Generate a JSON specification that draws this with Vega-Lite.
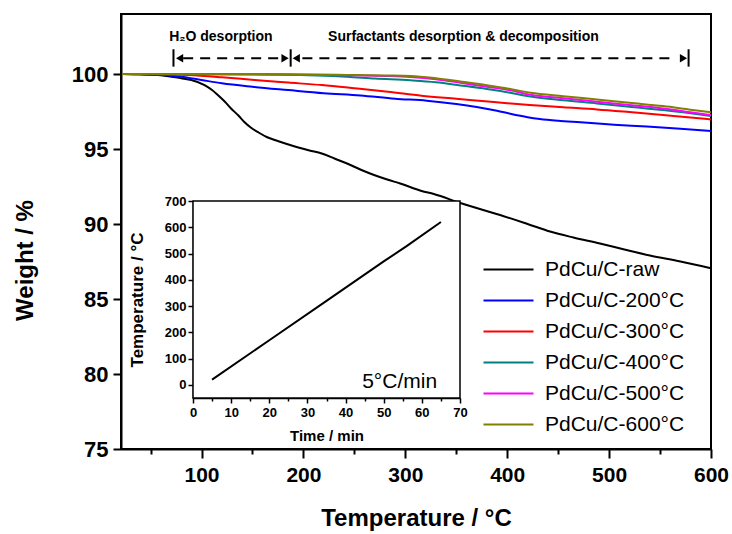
{
  "$schema": "https://vega.github.io/schema/vega-lite/v6.json",
  "width": 590,
  "height": 435,
  "autosize": {"type": "none"},
  "padding": {"left": 121, "top": 14, "right": 21, "bottom": 85},
  "background": "white",
  "config": {
    "view": {"stroke": "black", "strokeWidth": 2},
    "font": "Liberation Sans",
    "axis": {"grid": false, "domainColor": "black", "tickColor": "black", "labelColor": "black", "titleColor": "black"}
  },
  "datasets": {
    "tga": [
      {"sample": "PdCu/C-raw", "T": 22, "W": 100.0},
      {"sample": "PdCu/C-raw", "T": 40, "W": 99.98},
      {"sample": "PdCu/C-raw", "T": 60, "W": 99.92},
      {"sample": "PdCu/C-raw", "T": 71, "W": 99.82},
      {"sample": "PdCu/C-raw", "T": 80, "W": 99.72},
      {"sample": "PdCu/C-raw", "T": 90, "W": 99.6},
      {"sample": "PdCu/C-raw", "T": 103, "W": 99.26},
      {"sample": "PdCu/C-raw", "T": 110, "W": 98.95},
      {"sample": "PdCu/C-raw", "T": 116, "W": 98.6},
      {"sample": "PdCu/C-raw", "T": 123, "W": 98.15},
      {"sample": "PdCu/C-raw", "T": 129, "W": 97.7},
      {"sample": "PdCu/C-raw", "T": 136, "W": 97.25},
      {"sample": "PdCu/C-raw", "T": 142, "W": 96.8},
      {"sample": "PdCu/C-raw", "T": 149, "W": 96.4},
      {"sample": "PdCu/C-raw", "T": 156, "W": 96.1},
      {"sample": "PdCu/C-raw", "T": 164, "W": 95.8},
      {"sample": "PdCu/C-raw", "T": 172, "W": 95.6},
      {"sample": "PdCu/C-raw", "T": 183, "W": 95.35},
      {"sample": "PdCu/C-raw", "T": 195, "W": 95.1},
      {"sample": "PdCu/C-raw", "T": 206, "W": 94.9},
      {"sample": "PdCu/C-raw", "T": 218, "W": 94.7},
      {"sample": "PdCu/C-raw", "T": 231, "W": 94.35},
      {"sample": "PdCu/C-raw", "T": 244, "W": 94.0},
      {"sample": "PdCu/C-raw", "T": 257, "W": 93.6},
      {"sample": "PdCu/C-raw", "T": 270, "W": 93.25},
      {"sample": "PdCu/C-raw", "T": 283, "W": 92.95},
      {"sample": "PdCu/C-raw", "T": 295, "W": 92.7},
      {"sample": "PdCu/C-raw", "T": 316, "W": 92.2},
      {"sample": "PdCu/C-raw", "T": 328, "W": 92.0},
      {"sample": "PdCu/C-raw", "T": 354, "W": 91.4},
      {"sample": "PdCu/C-raw", "T": 393, "W": 90.6},
      {"sample": "PdCu/C-raw", "T": 420, "W": 90.0},
      {"sample": "PdCu/C-raw", "T": 442, "W": 89.5},
      {"sample": "PdCu/C-raw", "T": 465, "W": 89.1},
      {"sample": "PdCu/C-raw", "T": 491, "W": 88.7},
      {"sample": "PdCu/C-raw", "T": 515, "W": 88.3},
      {"sample": "PdCu/C-raw", "T": 540, "W": 87.9},
      {"sample": "PdCu/C-raw", "T": 570, "W": 87.5},
      {"sample": "PdCu/C-raw", "T": 600, "W": 87.05},
      {"sample": "PdCu/C-200°C", "T": 22, "W": 100.0},
      {"sample": "PdCu/C-200°C", "T": 50, "W": 99.97},
      {"sample": "PdCu/C-200°C", "T": 80, "W": 99.82},
      {"sample": "PdCu/C-200°C", "T": 100, "W": 99.6},
      {"sample": "PdCu/C-200°C", "T": 120, "W": 99.38},
      {"sample": "PdCu/C-200°C", "T": 150, "W": 99.15},
      {"sample": "PdCu/C-200°C", "T": 185, "W": 98.93},
      {"sample": "PdCu/C-200°C", "T": 220, "W": 98.72},
      {"sample": "PdCu/C-200°C", "T": 256, "W": 98.57},
      {"sample": "PdCu/C-200°C", "T": 290, "W": 98.35},
      {"sample": "PdCu/C-200°C", "T": 321, "W": 98.22},
      {"sample": "PdCu/C-200°C", "T": 350, "W": 98.0},
      {"sample": "PdCu/C-200°C", "T": 370, "W": 97.8},
      {"sample": "PdCu/C-200°C", "T": 390, "W": 97.55},
      {"sample": "PdCu/C-200°C", "T": 403, "W": 97.35},
      {"sample": "PdCu/C-200°C", "T": 420, "W": 97.12},
      {"sample": "PdCu/C-200°C", "T": 432, "W": 97.0},
      {"sample": "PdCu/C-200°C", "T": 450, "W": 96.88},
      {"sample": "PdCu/C-200°C", "T": 472, "W": 96.78},
      {"sample": "PdCu/C-200°C", "T": 505, "W": 96.62},
      {"sample": "PdCu/C-200°C", "T": 537, "W": 96.5},
      {"sample": "PdCu/C-200°C", "T": 570, "W": 96.35},
      {"sample": "PdCu/C-200°C", "T": 600, "W": 96.2},
      {"sample": "PdCu/C-300°C", "T": 22, "W": 100.0},
      {"sample": "PdCu/C-300°C", "T": 60, "W": 99.98},
      {"sample": "PdCu/C-300°C", "T": 87, "W": 99.93},
      {"sample": "PdCu/C-300°C", "T": 120, "W": 99.78},
      {"sample": "PdCu/C-300°C", "T": 152, "W": 99.6},
      {"sample": "PdCu/C-300°C", "T": 185, "W": 99.43},
      {"sample": "PdCu/C-300°C", "T": 218, "W": 99.26},
      {"sample": "PdCu/C-300°C", "T": 250, "W": 99.05},
      {"sample": "PdCu/C-300°C", "T": 283, "W": 98.82},
      {"sample": "PdCu/C-300°C", "T": 316, "W": 98.55},
      {"sample": "PdCu/C-300°C", "T": 350, "W": 98.35},
      {"sample": "PdCu/C-300°C", "T": 387, "W": 98.13},
      {"sample": "PdCu/C-300°C", "T": 422, "W": 97.93},
      {"sample": "PdCu/C-300°C", "T": 455, "W": 97.78},
      {"sample": "PdCu/C-300°C", "T": 488, "W": 97.64},
      {"sample": "PdCu/C-300°C", "T": 520, "W": 97.46},
      {"sample": "PdCu/C-300°C", "T": 553, "W": 97.26},
      {"sample": "PdCu/C-300°C", "T": 580, "W": 97.1},
      {"sample": "PdCu/C-300°C", "T": 600, "W": 96.97},
      {"sample": "PdCu/C-400°C", "T": 22, "W": 100.0},
      {"sample": "PdCu/C-400°C", "T": 100, "W": 99.98},
      {"sample": "PdCu/C-400°C", "T": 180, "W": 99.95},
      {"sample": "PdCu/C-400°C", "T": 243, "W": 99.82},
      {"sample": "PdCu/C-400°C", "T": 270, "W": 99.7},
      {"sample": "PdCu/C-400°C", "T": 305, "W": 99.58},
      {"sample": "PdCu/C-400°C", "T": 330, "W": 99.45},
      {"sample": "PdCu/C-400°C", "T": 354, "W": 99.24},
      {"sample": "PdCu/C-400°C", "T": 380, "W": 99.0},
      {"sample": "PdCu/C-400°C", "T": 403, "W": 98.75},
      {"sample": "PdCu/C-400°C", "T": 423, "W": 98.5},
      {"sample": "PdCu/C-400°C", "T": 455, "W": 98.25},
      {"sample": "PdCu/C-400°C", "T": 488, "W": 98.04},
      {"sample": "PdCu/C-400°C", "T": 520, "W": 97.82},
      {"sample": "PdCu/C-400°C", "T": 553, "W": 97.6},
      {"sample": "PdCu/C-400°C", "T": 580, "W": 97.38},
      {"sample": "PdCu/C-400°C", "T": 600, "W": 97.2},
      {"sample": "PdCu/C-500°C", "T": 22, "W": 100.0},
      {"sample": "PdCu/C-500°C", "T": 150, "W": 99.98},
      {"sample": "PdCu/C-500°C", "T": 250, "W": 99.92},
      {"sample": "PdCu/C-500°C", "T": 280, "W": 99.87},
      {"sample": "PdCu/C-500°C", "T": 305, "W": 99.8},
      {"sample": "PdCu/C-500°C", "T": 330, "W": 99.65},
      {"sample": "PdCu/C-500°C", "T": 354, "W": 99.42},
      {"sample": "PdCu/C-500°C", "T": 380, "W": 99.15},
      {"sample": "PdCu/C-500°C", "T": 403, "W": 98.91},
      {"sample": "PdCu/C-500°C", "T": 423, "W": 98.62},
      {"sample": "PdCu/C-500°C", "T": 455, "W": 98.38},
      {"sample": "PdCu/C-500°C", "T": 488, "W": 98.15},
      {"sample": "PdCu/C-500°C", "T": 520, "W": 97.93},
      {"sample": "PdCu/C-500°C", "T": 553, "W": 97.7},
      {"sample": "PdCu/C-500°C", "T": 580, "W": 97.45},
      {"sample": "PdCu/C-500°C", "T": 600, "W": 97.26},
      {"sample": "PdCu/C-600°C", "T": 22, "W": 100.0},
      {"sample": "PdCu/C-600°C", "T": 150, "W": 100.0},
      {"sample": "PdCu/C-600°C", "T": 250, "W": 99.93},
      {"sample": "PdCu/C-600°C", "T": 280, "W": 99.9},
      {"sample": "PdCu/C-600°C", "T": 305, "W": 99.87},
      {"sample": "PdCu/C-600°C", "T": 330, "W": 99.72},
      {"sample": "PdCu/C-600°C", "T": 354, "W": 99.5},
      {"sample": "PdCu/C-600°C", "T": 380, "W": 99.25},
      {"sample": "PdCu/C-600°C", "T": 403, "W": 99.0},
      {"sample": "PdCu/C-600°C", "T": 423, "W": 98.75},
      {"sample": "PdCu/C-600°C", "T": 455, "W": 98.52},
      {"sample": "PdCu/C-600°C", "T": 488, "W": 98.3},
      {"sample": "PdCu/C-600°C", "T": 520, "W": 98.08},
      {"sample": "PdCu/C-600°C", "T": 553, "W": 97.86},
      {"sample": "PdCu/C-600°C", "T": 580, "W": 97.62},
      {"sample": "PdCu/C-600°C", "T": 600, "W": 97.45}
    ],
    "spans": [
      {"T": 82, "T2": 177.5, "W": 101.05},
      {"T": 199, "T2": 566, "W": 101.05}
    ],
    "caps": [
      {"T": 72.5, "W": 100.49, "W2": 101.65},
      {"T": 187.5, "W": 100.49, "W2": 101.65},
      {"T": 578, "W": 100.49, "W2": 101.65}
    ],
    "heads": [
      {"T": 78.5, "W": 101.05, "dir": "left"},
      {"T": 182, "W": 101.05, "dir": "right"},
      {"T": 193, "W": 101.05, "dir": "left"},
      {"T": 573, "W": 101.05, "dir": "right"}
    ],
    "notes": [
      {"T": 119, "W": 102.47, "note": "H₂O desorption"},
      {"T": 357, "W": 102.47, "note": "Surfactants desorption & decomposition"}
    ],
    "ramp": [
      {"t": 5, "c": 20},
      {"t": 20, "c": 170},
      {"t": 35, "c": 320},
      {"t": 50, "c": 470},
      {"t": 56, "c": 528},
      {"t": 65, "c": 620}
    ],
    "rampFrame": [
      {"t": 0, "t2": 70, "c": -50, "c2": 700}
    ],
    "rampNote": [
      {"t": 64, "c": 10, "note": "5°C/min"}
    ]
  },
  "layer": [
    {
      "layer": [
        {
          "data": {"name": "tga"},
          "mark": {"type": "line", "strokeWidth": 2, "interpolate": "monotone"},
          "encoding": {
            "x": {
              "field": "T", "type": "quantitative",
              "scale": {"domain": [21, 600], "nice": false, "zero": false},
              "axis": {
                "title": "Temperature / °C",
                "values": [50, 100, 150, 200, 250, 300, 350, 400, 450, 500, 550, 600],
                "labelExpr": "datum.value % 100 === 0 ? '' + datum.value : ''",
                "tickSize": {"condition": {"test": "datum.value % 100 === 0", "value": 9}, "value": 5},
                "tickWidth": 2,
                "domainWidth": 2,
                "labelFont": "Liberation Sans",
                "labelFontSize": 21,
                "labelFontWeight": "bold",
                "labelPadding": 6,
                "labelFlush": false,
                "titleFont": "Liberation Sans",
                "titleFontSize": 24,
                "titleFontWeight": "bold",
                "titlePadding": 21
              }
            },
            "y": {
              "field": "W", "type": "quantitative",
              "scale": {"domain": [75, 104], "nice": false, "zero": false},
              "axis": {
                "title": "Weight / %",
                "values": [75, 77.5, 80, 82.5, 85, 87.5, 90, 92.5, 95, 97.5, 100, 102.5],
                "labelExpr": "datum.value % 5 === 0 ? '' + datum.value : ''",
                "tickSize": {"condition": {"test": "datum.value % 5 === 0", "value": 8}, "value": 4},
                "tickWidth": 2,
                "domainWidth": 2,
                "labelFont": "Liberation Sans",
                "labelFontSize": 22,
                "labelFontWeight": "bold",
                "labelPadding": 5,
                "labelFlush": false,
                "titleFont": "Liberation Sans",
                "titleFontSize": 24,
                "titleFontWeight": "bold",
                "titlePadding": 34,
                "titleY": 246
              }
            },
            "color": {
              "field": "sample", "type": "nominal",
              "scale": {
                "domain": ["PdCu/C-raw", "PdCu/C-200°C", "PdCu/C-300°C", "PdCu/C-400°C", "PdCu/C-500°C", "PdCu/C-600°C"],
                "range": ["#000000", "#0000ff", "#ff0000", "#008080", "#ff00ff", "#808000"]
              },
              "legend": {
                "orient": "none",
                "legendX": 377,
                "legendY": 245,
                "title": null,
                "symbolType": "M-5,0L5,0",
                "symbolSize": 100,
                "symbolStrokeWidth": 2,
                "symbolFillColor": "transparent",
                "labelFont": "Liberation Sans",
                "labelFontSize": 21,
                "labelColor": "black",
                "labelOffset": 26,
                "rowPadding": 9
              }
            }
          }
        },
        {
          "data": {"name": "spans"},
          "mark": {"type": "rule", "strokeWidth": 2, "strokeDash": [10, 7], "color": "black"},
          "encoding": {
            "x": {"field": "T", "type": "quantitative"},
            "x2": {"field": "T2"},
            "y": {"field": "W", "type": "quantitative"}
          }
        },
        {
          "data": {"name": "caps"},
          "mark": {"type": "rule", "strokeWidth": 2, "color": "black"},
          "encoding": {
            "x": {"field": "T", "type": "quantitative"},
            "y": {"field": "W", "type": "quantitative"},
            "y2": {"field": "W2"}
          }
        },
        {
          "data": {"name": "heads"},
          "mark": {"type": "point", "filled": true, "color": "black", "opacity": 1, "size": 70},
          "encoding": {
            "x": {"field": "T", "type": "quantitative"},
            "y": {"field": "W", "type": "quantitative"},
            "shape": {
              "field": "dir", "type": "nominal",
              "scale": {"domain": ["left", "right"], "range": ["triangle-left", "triangle-right"]},
              "legend": null
            }
          }
        },
        {
          "data": {"name": "notes"},
          "mark": {"type": "text", "font": "Liberation Sans", "fontWeight": "bold", "fontSize": 14, "baseline": "middle", "align": "center", "color": "black"},
          "encoding": {
            "x": {"field": "T", "type": "quantitative"},
            "y": {"field": "W", "type": "quantitative"},
            "text": {"field": "note"}
          }
        }
      ]
    },
    {
      "layer": [
        {
          "data": {"name": "rampFrame"},
          "mark": {"type": "rect", "fill": "white", "stroke": "black", "strokeWidth": 1.5},
          "encoding": {
            "x": {
              "field": "t", "type": "quantitative",
              "scale": {"domain": [0, 70], "range": [72, 339], "nice": false, "zero": false},
              "axis": {
                "orient": "bottom",
                "offset": -51,
                "title": "Time / min",
                "values": [0, 5, 10, 15, 20, 25, 30, 35, 40, 45, 50, 55, 60, 65, 70],
                "labelExpr": "datum.value % 10 === 0 ? '' + datum.value : ''",
                "tickSize": {"condition": {"test": "datum.value % 10 === 0", "value": 5}, "value": 3},
                "tickWidth": 1.5,
                "domainWidth": 1.5,
                "labelFont": "Liberation Sans",
                "labelFontSize": 13,
                "labelFontWeight": "bold",
                "labelPadding": 3,
                "labelFlush": false,
                "titleFont": "Liberation Sans",
                "titleFontSize": 15,
                "titleFontWeight": "bold",
                "titlePadding": 9
              }
            },
            "x2": {"field": "t2"},
            "y": {
              "field": "c", "type": "quantitative",
              "scale": {"domain": [-50, 700], "range": [384, 187], "nice": false, "zero": false},
              "axis": {
                "orient": "left",
                "offset": -72,
                "title": "Temperature / °C",
                "values": [0, 50, 100, 150, 200, 250, 300, 350, 400, 450, 500, 550, 600, 650, 700],
                "labelExpr": "datum.value % 100 === 0 ? '' + datum.value : ''",
                "tickSize": {"condition": {"test": "datum.value % 100 === 0", "value": 5}, "value": 3},
                "tickWidth": 1.5,
                "domainWidth": 1.5,
                "labelFont": "Liberation Sans",
                "labelFontSize": 13,
                "labelFontWeight": "bold",
                "labelPadding": 2,
                "labelFlush": false,
                "titleFont": "Liberation Sans",
                "titleFontSize": 17,
                "titleFontWeight": "bold",
                "titlePadding": 18
              }
            },
            "y2": {"field": "c2"}
          }
        },
        {
          "data": {"name": "ramp"},
          "mark": {"type": "line", "strokeWidth": 2, "color": "black"},
          "encoding": {
            "x": {"field": "t", "type": "quantitative"},
            "y": {"field": "c", "type": "quantitative"}
          }
        },
        {
          "data": {"name": "rampNote"},
          "mark": {"type": "text", "font": "Liberation Sans", "fontSize": 21, "align": "right", "baseline": "middle", "color": "black"},
          "encoding": {
            "x": {"field": "t", "type": "quantitative"},
            "y": {"field": "c", "type": "quantitative"},
            "text": {"field": "note"}
          }
        }
      ]
    }
  ],
  "resolve": {
    "scale": {"x": "independent", "y": "independent"},
    "axis": {"x": "independent", "y": "independent"}
  }
}
